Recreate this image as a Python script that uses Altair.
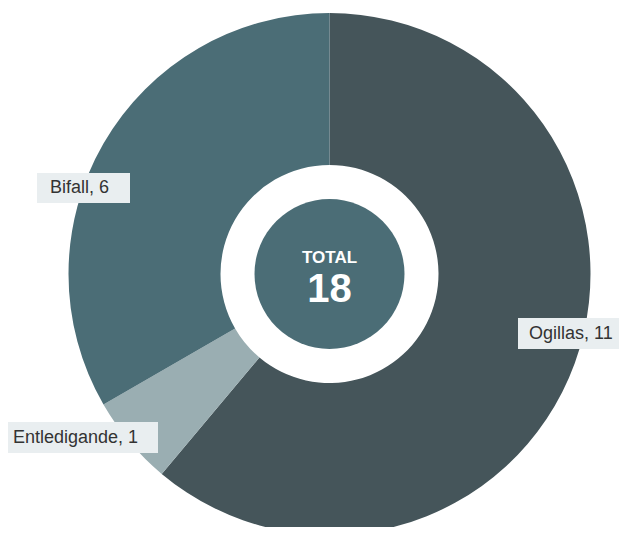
import altair as alt
import pandas as pd

categories = ["Ogillas", "Entledigande", "Bifall"]
values = [11, 1, 6]
colors = ["#45555a", "#9aaeb2", "#4b6d76"]
total_title = "TOTAL"

df = pd.DataFrame({
    "cat": categories,
    "value": values,
    "idx": list(range(len(categories))),
})
df["label"] = df["cat"] + ", " + df["value"].astype(str)
df["total"] = str(sum(values))

CX, CY = 321.5, 266

base = alt.Chart(df)

donut = base.mark_arc(radius=261, radius2=109, stroke=None).encode(
    theta=alt.Theta("value:Q", stack=True),
    order=alt.Order("idx:Q"),
    color=alt.Color("cat:N", scale=alt.Scale(domain=categories, range=colors), legend=None),
    x=alt.value(CX),
    y=alt.value(CY),
)

center = base.transform_filter(alt.datum.idx == 0).mark_arc(
    radius=75, color="#4b6d76"
).encode(
    x=alt.value(CX), y=alt.value(CY),
    theta=alt.value(0), theta2=alt.value(6.2832),
)

total_lbl = base.transform_filter(alt.datum.idx == 0).mark_text(
    text=total_title, font="Liberation Sans", fontWeight="bold", fontSize=17,
    color="white", baseline="alphabetic", align="center"
).encode(x=alt.value(CX), y=alt.value(255))

total_num = base.transform_filter(alt.datum.idx == 0).mark_text(
    font="Liberation Sans", fontWeight="bold", fontSize=40,
    color="white", baseline="alphabetic", align="center"
).encode(x=alt.value(CX), y=alt.value(294), text="total:N")

# label boxes (x, x2, y, y2 in plot coordinates) and text anchor
label_layout = {
    "Bifall": (29, 122, 165, 195, 42, 180),
    "Ogillas": (510, 625, 310, 341, 521, 326),
    "Entledigande": (-5, 150, 414, 445, 5, 430),
}

layers = [donut, center, total_lbl, total_num]
for cat, (x1, x2, y1, y2, tx, ty) in label_layout.items():
    f = base.transform_filter(alt.datum.cat == cat)
    layers.append(
        f.mark_rect(color="#e9eef0").encode(
            x=alt.value(x1), x2=alt.value(x2), y=alt.value(y1), y2=alt.value(y2)
        )
    )
    layers.append(
        f.mark_text(font="Liberation Sans", fontSize=18, color="#333333",
                    align="left", baseline="middle").encode(
            x=alt.value(tx), y=alt.value(ty), text="label:N"
        )
    )

chart = alt.layer(*layers).properties(
    width=611, height=519, padding=0,
    autosize=alt.AutoSizeParams(type="none"),
).configure_view(stroke=None)

chart.save("out.html", embed_options={"renderer": "svg", "actions": False})
